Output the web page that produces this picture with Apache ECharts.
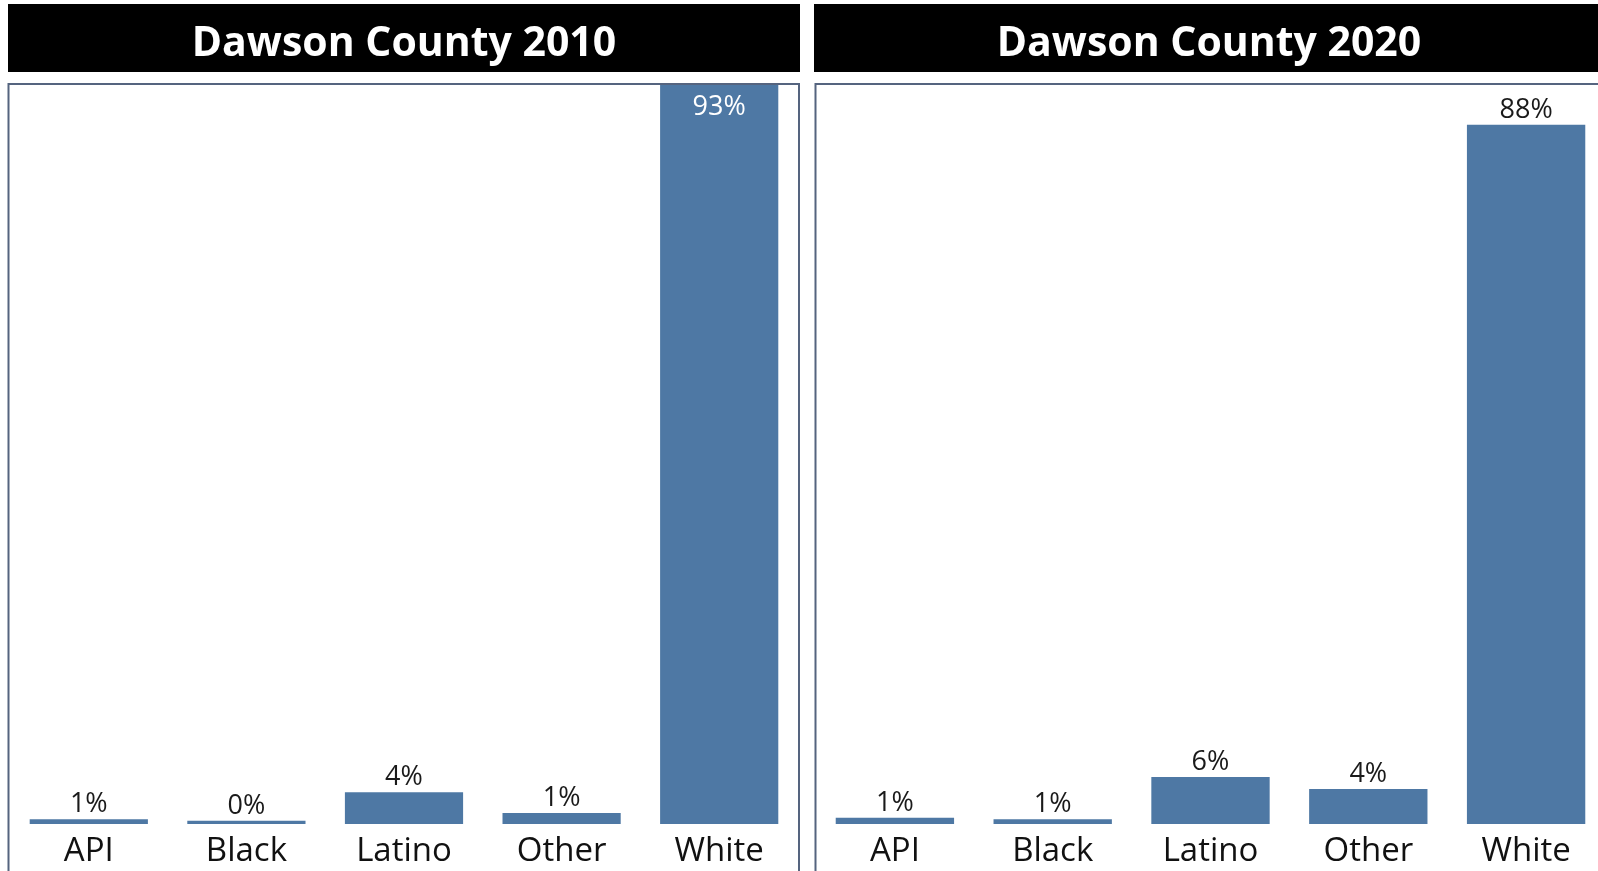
<!DOCTYPE html>
<html>
<head>
<meta charset="utf-8">
<script src="https://cdn.jsdelivr.net/npm/echarts@6/dist/echarts.min.js"></script>
<style>
html,body{margin:0;padding:0;background:#fff;overflow:hidden;}
#chart{width:1608px;height:871px;}
</style>
</head>
<body>
<div id="chart"></div>
<script>
var categories = ['API', 'Black', 'Latino', 'Other', 'White'];
var values2010 = [0.6, 0.4, 4.0, 1.4, 93];
var values2020 = [0.8, 0.6, 5.9, 4.4, 88];
var titles = ['Dawson County 2010', 'Dawson County 2020'];
var yMax = 93;

var barColor = '#4e78a4';
var frameColor = '#55647f';
var FONT = '"Open Sans", sans-serif';

function buildData(vals) {
  return vals.map(function (v) {
    if (v / yMax > 0.97) {
      return { value: v, label: { position: 'insideTop', color: '#ffffff', distance: 9 } };
    }
    return v;
  });
}

var chart = echarts.init(document.getElementById('chart'), null, { renderer: 'canvas' });

var grids = [
  { left: 10, width: 788, top: 85, bottom: 47 },
  { left: 816, width: 789, top: 85, bottom: 47 }
];

var option = {
  animation: false,
  backgroundColor: '#ffffff',
  grid: grids,
  xAxis: [0, 1].map(function (i) {
    return {
      type: 'category',
      gridIndex: i,
      data: categories,
      axisLine: { show: false },
      axisTick: { show: false },
      axisLabel: { color: '#111111', fontFamily: FONT, fontSize: 33, margin: 11 }
    };
  }),
  yAxis: [0, 1].map(function (i) {
    return {
      type: 'value',
      gridIndex: i,
      min: 0,
      max: yMax,
      show: false,
      splitLine: { show: false }
    };
  }),
  series: [values2010, values2020].map(function (vals, i) {
    return {
      type: 'bar',
      xAxisIndex: i,
      yAxisIndex: i,
      data: buildData(vals),
      barCategoryGap: '25%',
      itemStyle: { color: barColor },
      label: {
        show: true,
        position: 'top',
        distance: 1,
        color: '#1a1a1a',
        fontFamily: FONT,
        fontSize: 27,
        formatter: function (p) { return Math.round(p.value) + '%'; }
      }
    };
  }),
  graphic: [
    { type: 'rect', shape: { x: 8, y: 4, width: 792, height: 68 }, style: { fill: '#000000' }, z: 1 },
    { type: 'rect', shape: { x: 814, y: 4, width: 800, height: 68 }, style: { fill: '#000000' }, z: 1 },
    { type: 'text', x: 404, y: 44, z: 2, style: { text: titles[0], fill: '#ffffff', font: 'bold 41px "Open Sans", sans-serif', textAlign: 'center', textVerticalAlign: 'middle' } },
    { type: 'text', x: 1209, y: 44, z: 2, style: { text: titles[1], fill: '#ffffff', font: 'bold 41px "Open Sans", sans-serif', textAlign: 'center', textVerticalAlign: 'middle' } },
    { type: 'rect', shape: { x: 8.5, y: 84, width: 790.5, height: 800 }, style: { fill: 'none', stroke: frameColor, lineWidth: 2 }, z: 1 },
    { type: 'rect', shape: { x: 815.5, y: 84, width: 800, height: 800 }, style: { fill: 'none', stroke: frameColor, lineWidth: 2 }, z: 1 }
  ]
};

chart.setOption(option);
</script>
</body>
</html>
